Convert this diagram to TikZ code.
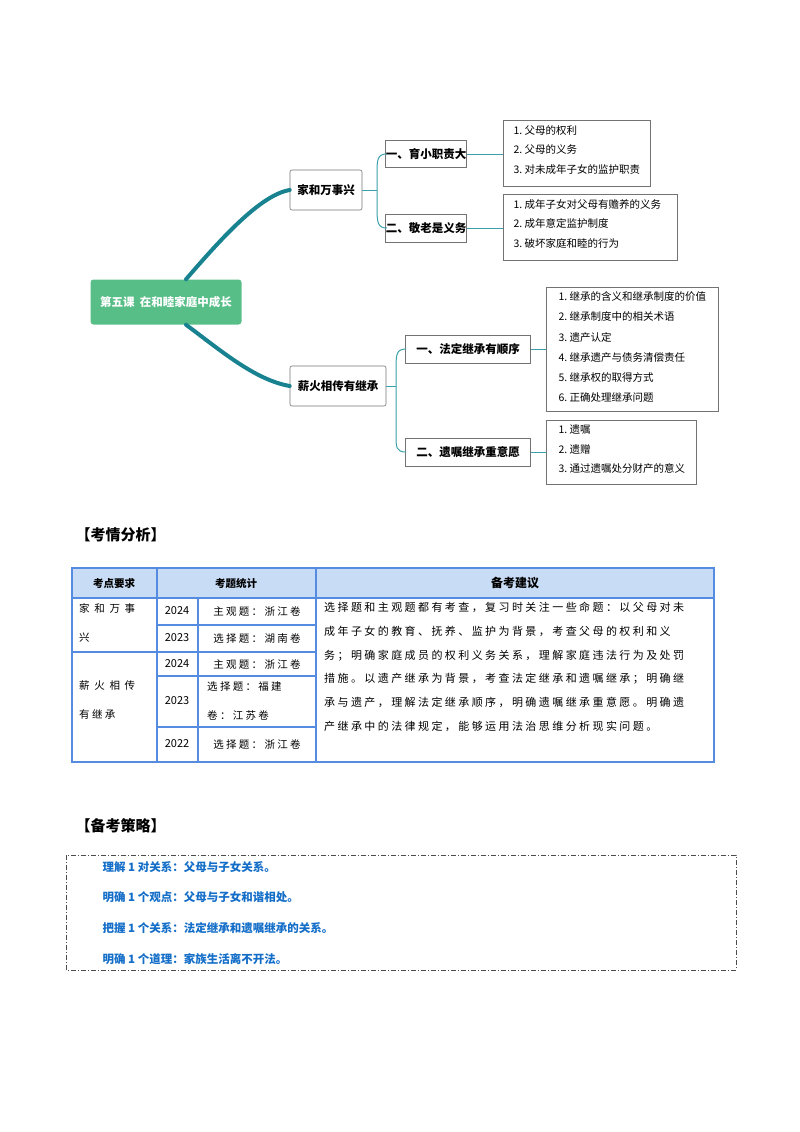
\documentclass[tikz,border=0pt]{standalone}
\usepackage{fontspec}
\setmainfont{Noto Sans CJK SC}
\newfontfamily\cjk{Noto Sans CJK SC}
\newfontfamily\spaced[LetterSpace=22]{Noto Sans CJK SC}
\definecolor{rootg}{RGB}{88,190,135}
\definecolor{brc}{RGB}{25,130,145}
\definecolor{lnc}{RGB}{60,160,170}
\definecolor{tbl}{RGB}{85,140,225}
\definecolor{hdr}{RGB}{200,220,245}
\definecolor{stc}{RGB}{20,110,200}
\begin{document}
\begin{tikzpicture}[x=1pt,y=-1pt,
  box/.style={draw=black!55,line width=0.6pt,inner sep=0pt},
  lbl/.style={font=\fontsize{11.5}{13}\selectfont\bfseries,anchor=center},
  lst/.style={font=\fontsize{10.5}{19.5}\selectfont,align=left,anchor=north west},
  br/.style={draw=lnc,line width=1pt},
  thick br/.style={draw=brc,line width=4pt,line cap=round},
  tb/.style={draw=tbl,line width=1.1pt},
  ttx/.style={font=\spaced\fontsize{10.5}{12}\selectfont},
  strat/.style={font=\fontsize{11.5}{13}\selectfont\bfseries,text=stc,anchor=west}]
\useasboundingbox (0,0) rectangle (800,1132);
% mind map
\node[fill=rootg,rounded corners=3pt,minimum width=151pt,minimum height=45pt,text=white,font=\fontsize{11.5}{13}\selectfont\bfseries] (root) at (166,302) {第五课\ \ 在和睦家庭中成长};
\node[box,rounded corners=2pt,minimum width=72pt,minimum height=40pt,lbl] (a) at (326,190) {家和万事兴};
\node[box,rounded corners=2pt,minimum width=96pt,minimum height=40pt,lbl] (b) at (338,386) {薪火相传有继承};
\node[box,minimum width=79pt,minimum height=27pt,lbl] (a1) at (426,154) {一、育小职责大};
\node[box,minimum width=79pt,minimum height=28pt,lbl] (a2) at (426,228) {二、敬老是义务};
\node[box,minimum width=125pt,minimum height=28pt,lbl] (b1) at (468,349) {一、法定继承有顺序};
\node[box,minimum width=125pt,minimum height=28pt,lbl] (b2) at (468,452) {二、遗嘱继承重意愿};
\draw[box] (503,120) rectangle (650,186);
\node[lst] (l1) at (510,122) {1.\ 父母的权利\\2.\ 父母的义务\\3.\ 对未成年子女的监护职责};
\draw[box] (503,194) rectangle (677,260);
\node[lst] (l2) at (510,196) {1.\ 成年子女对父母有赡养的义务\\2.\ 成年意定监护制度\\3.\ 破坏家庭和睦的行为};
\draw[box] (546,287) rectangle (718,411);
\node[lst,font=\fontsize{10.5}{20.3}\selectfont] (l3) at (555,288) {1.\ 继承的含义和继承制度的价值\\2.\ 继承制度中的相关术语\\3.\ 遗产认定\\4.\ 继承遗产与债务清偿责任\\5.\ 继承权的取得方式\\6.\ 正确处理继承问题};
\draw[box] (546,420) rectangle (696,484);
\node[lst,font=\fontsize{10.5}{19.8}\selectfont] (l4) at (555,421) {1.\ 遗嘱\\2.\ 遗赠\\3.\ 通过遗嘱处分财产的意义};
\draw[thick br] (root.north) ++(20,0) .. controls (220,240) and (260,195) .. (a.west);
\draw[thick br] (root.south) ++(20,0) .. controls (220,350) and (255,380) .. (b.west);
\draw[br] (a.east) -- (377,190);
\draw[br] (387,154) .. controls (377,154) and (377,160) .. (377,175) -- (377,205) .. controls (377,222) and (377,228) .. (387,228);
\draw[br] (b.east) -- (396,386);
\draw[br] (406,349) .. controls (396,349) and (396,355) .. (396,370) -- (396,435) .. controls (396,447) and (396,452) .. (406,452);
\draw[br] (a1.east) -- (503,154);
\draw[br] (a2.east) -- (503,228);
\draw[br] (b1.east) -- (546,349);
\draw[br] (b2.east) -- (546,452);
% section 1
\node[anchor=west,font=\fontsize{15}{17}\selectfont\bfseries] (t1) at (72,535) {【考情分析】};
\fill[hdr] (72,568) rectangle (714,598);
\draw[tb] (72,568) rectangle (714,762);
\draw[tb] (72,598) -- (714,598);
\draw[tb] (157,568) -- (157,762);
\draw[tb] (316,568) -- (316,762);
\draw[tb] (198,598) -- (198,762);
\draw[tb] (72,652) -- (316,652);
\draw[tb] (157,625) -- (316,625);
\draw[tb] (157,676) -- (316,676);
\draw[tb] (157,727) -- (316,727);
\node[font=\fontsize{10.5}{12}\selectfont\bfseries] (h1) at (114,583) {考点要求};
\node[font=\fontsize{10.5}{12}\selectfont\bfseries] (h2) at (236,583) {考题统计};
\node[font=\fontsize{12}{12}\selectfont\bfseries] (h3) at (515,583) {备考建议};
\node[anchor=north west,align=left,font=\spaced\fontsize{10.5}{29}\selectfont,inner sep=0pt] (c1) at (79,603) {家\ 和\ 万\ 事\\兴};
\node[anchor=north west,align=left,font=\spaced\fontsize{10.5}{29}\selectfont,inner sep=0pt] (c2) at (79,680) {薪\ 火\ 相\ 传\\有继承};
\node[font=\fontsize{11}{12}\selectfont] (y1) at (177,611) {2024};
\node[font=\fontsize{11}{12}\selectfont] (y2) at (177,638) {2023};
\node[font=\fontsize{11}{12}\selectfont] (y3) at (177,664) {2024};
\node[font=\fontsize{11}{12}\selectfont] (y4) at (177,701) {2023};
\node[font=\fontsize{11}{12}\selectfont] (y5) at (177,744) {2022};
\node[ttx] (s1) at (257,611) {主观题：浙江卷};
\node[ttx] (s2) at (257,638) {选择题：湖南卷};
\node[ttx] (s3) at (257,664) {主观题：浙江卷};
\node[anchor=north west,align=left,font=\spaced\fontsize{10.5}{29}\selectfont,inner sep=0pt] (s4) at (207,681) {选择题：福建\\卷：江苏卷};
\node[ttx] (s5) at (257,744) {选择题：浙江卷};
\node[anchor=north west,align=left,font=\spaced\fontsize{11}{23.8}\selectfont,inner sep=0pt] (p) at (324,602) {选择题和主观题都有考查，复习时关注一些命题：以父母对未\\成年子女的教育、抚养、监护为背景，考查父母的权利和义\\务；明确家庭成员的权利义务关系，理解家庭违法行为及处罚\\措施。以遗产继承为背景，考查法定继承和遗嘱继承；明确继\\承与遗产，理解法定继承顺序，明确遗嘱继承重意愿。明确遗\\产继承中的法律规定，能够运用法治思维分析现实问题。};
% section 2
\node[anchor=west,font=\fontsize{15}{17}\selectfont\bfseries] (t2) at (72,826) {【备考策略】};
\draw[black!70,line width=0.7pt,dash pattern=on 5pt off 2pt on 1pt off 2pt] (66,855) rectangle (736,970);
\node[strat] (r1) at (99,867) {理解 1 对关系：父母与子女关系。};
\node[strat] (r2) at (99,897) {明确 1 个观点：父母与子女和谐相处。};
\node[strat] (r3) at (99,928) {把握 1 个关系：法定继承和遗嘱继承的关系。};
\node[strat] (r4) at (99,959) {明确 1 个道理：家族生活离不开法。};
\end{tikzpicture}
\end{document}
